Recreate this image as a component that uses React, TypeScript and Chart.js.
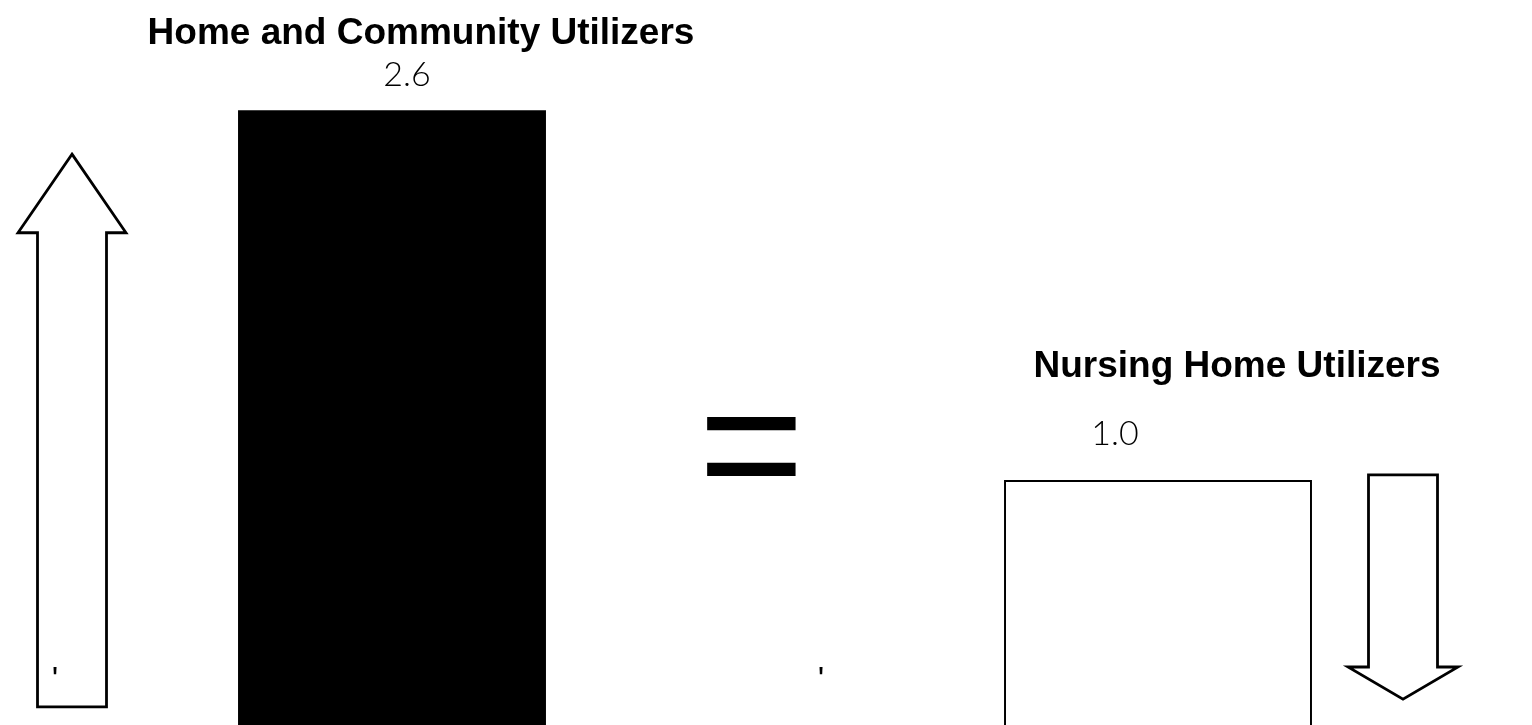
import React, { useEffect, useRef } from "react";
import { Chart, registerables } from "chart.js";

Chart.register(...registerables);

const categories = ["Home and Community Utilizers", "Nursing Home Utilizers"];
const values = [2.6, 1.0];
const valueLabels = ["2.6", "1.0"];
const barFills = ["#000000", "#ffffff"];
const barBorderWidths = [0, 2];
const yMin = -0.06;
const yMax = 3.077;
// arrow levels in data units: [tip/top, head base, end]
const arrowUp = [2.41, 2.07, 0.018];
const arrowDown = [1.022, 0.191, 0.052];

const overlay = {
  id: "overlay",
  afterDatasetsDraw(chart: any) {
    const ctx = chart.ctx;
    const meta = chart.getDatasetMeta(0);
    const y = chart.scales.y;
    const b0 = meta.data[0];
    const b1 = meta.data[1];
    ctx.save();
    ctx.fillStyle = "#000";
    ctx.textAlign = "center";
    ctx.textBaseline = "alphabetic";
    // titles
    ctx.font = "bold 37px 'Liberation Sans', Arial, sans-serif";
    ctx.fillText(categories[0], b0.x + 29, 44);
    ctx.fillText(categories[1], b1.x + 79, 377);
    // values
    ctx.font = "300 34px Lato, 'DejaVu Sans', sans-serif";
    ctx.fillText(valueLabels[0], b0.x + 15, 86);
    ctx.fillText(valueLabels[1], b1.x - 43, 445);
    // equals sign
    ctx.font = "182px 'Liberation Sans', Arial, sans-serif";
    ctx.fillText("=", b0.x + 359.5, 507);
    // small tick glyphs
    ctx.font = "34px 'Liberation Sans', Arial, sans-serif";
    ctx.fillText("'", b0.x - 337, 690);
    ctx.fillText("'", b1.x - 337, 690);

    // arrows
    ctx.lineWidth = 2.8;
    ctx.strokeStyle = "#000";
    ctx.lineJoin = "miter";
    const sw = 34.5;
    const hw = 54;
    // up arrow
    const ux = b0.x - 320;
    const uTip = y.getPixelForValue(arrowUp[0]);
    const uBase = y.getPixelForValue(arrowUp[1]);
    const uEnd = y.getPixelForValue(arrowUp[2]);
    ctx.beginPath();
    ctx.moveTo(ux, uTip);
    ctx.lineTo(ux + hw, uBase);
    ctx.lineTo(ux + sw, uBase);
    ctx.lineTo(ux + sw, uEnd);
    ctx.lineTo(ux - sw, uEnd);
    ctx.lineTo(ux - sw, uBase);
    ctx.lineTo(ux - hw, uBase);
    ctx.closePath();
    ctx.stroke();
    // down arrow
    const dx = b1.x + 245;
    const dTop = y.getPixelForValue(arrowDown[0]);
    const dBase = y.getPixelForValue(arrowDown[1]);
    const dTip = y.getPixelForValue(arrowDown[2]);
    ctx.beginPath();
    ctx.moveTo(dx - sw, dTop);
    ctx.lineTo(dx + sw, dTop);
    ctx.lineTo(dx + sw, dBase);
    ctx.lineTo(dx + hw + 1, dBase);
    ctx.lineTo(dx, dTip);
    ctx.lineTo(dx - hw - 1, dBase);
    ctx.lineTo(dx - sw, dBase);
    ctx.closePath();
    ctx.stroke();
    ctx.restore();
  },
};

export default function App() {
  const ref = useRef<HTMLCanvasElement | null>(null);
  useEffect(() => {
    if (!ref.current) return;
    const chart = new Chart(ref.current, {
      type: "bar",
      data: {
        labels: categories,
        datasets: [
          {
            data: values.map((v) => [yMin, v]) as any,
            backgroundColor: barFills,
            borderColor: "#000000",
            borderWidth: barBorderWidths,
            borderSkipped: "start",
            barPercentage: 0.402,
            categoryPercentage: 1,
          },
        ],
      },
      options: {
        animation: false,
        responsive: true,
        maintainAspectRatio: false,
        layout: { padding: 0 },
        plugins: { legend: { display: false }, tooltip: { enabled: false } },
        scales: {
          x: { display: false },
          y: { display: false, min: yMin, max: yMax },
        },
      },
      plugins: [overlay],
    });
    return () => chart.destroy();
  }, []);
  return (
    <div
      style={{
        position: "fixed",
        left: 0,
        top: 0,
        width: 1532,
        height: 725,
        overflow: "hidden",
        background: "#fff",
      }}
    >
      <div style={{ position: "absolute", left: 9, top: 0, width: 1532, height: 725 }}>
        <canvas ref={ref} />
      </div>
    </div>
  );
}
